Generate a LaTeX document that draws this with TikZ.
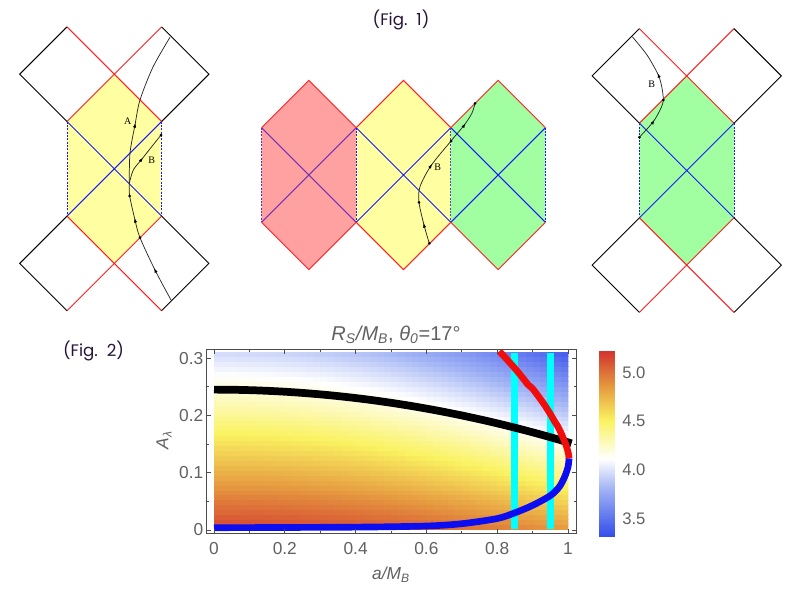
\documentclass[tikz,border=0pt]{standalone}
\usepackage{fontspec}
\newfontfamily\figfont{Poppins}
\newfontfamily\plotfont{Liberation Sans}
\newfontfamily\lblfont{Liberation Serif}
\usetikzlibrary{arrows.meta}
\definecolor{penred}{rgb}{1,0.12,0.12}
\definecolor{penblue}{rgb}{0.1,0.1,1}
\definecolor{penpurple}{rgb}{0.45,0.2,0.7}
\definecolor{hexyellow}{rgb}{1,1,0.63}
\definecolor{hexgreen}{rgb}{0.63,1,0.63}
\definecolor{hexpink}{rgb}{1,0.63,0.63}
\definecolor{figtxt}{rgb}{0.15,0.08,0.22}
\definecolor{plotgray}{rgb}{0.38,0.38,0.38}
\definecolor{framegray}{rgb}{0.3,0.3,0.3}
\definecolor{cmA}{rgb}{0.20,0.30,0.92}
\definecolor{cmB}{rgb}{0.64,0.71,0.96}
\definecolor{cmC}{rgb}{1,1,1}
\definecolor{cmD}{rgb}{0.98,0.95,0.38}
\definecolor{cmE}{rgb}{0.90,0.60,0.25}
\definecolor{cmF}{rgb}{0.82,0.20,0.18}
\definecolor{curveblue}{rgb}{0.05,0.05,0.95}
\definecolor{curvered}{rgb}{0.95,0.05,0.05}
\definecolor{curvecyan}{rgb}{0,1,1}
\newcommand\cmapcolor[1]{%
  \pgfmathsetmacro\cmvv{#1}%
  \ifdim\cmvv pt<3.8pt
    \pgfmathsetmacro\cmtt{max(0,min(100,(\cmvv-3.3)*200))}%
    \colorlet{cellc}{cmB!\cmtt!cmA}%
  \else\ifdim\cmvv pt<4.1pt
    \pgfmathsetmacro\cmtt{(\cmvv-3.8)/0.3*100}%
    \colorlet{cellc}{cmC!\cmtt!cmB}%
  \else\ifdim\cmvv pt<4.5pt
    \pgfmathsetmacro\cmtt{(\cmvv-4.1)/0.4*100}%
    \colorlet{cellc}{cmD!\cmtt!cmC}%
  \else\ifdim\cmvv pt<4.85pt
    \pgfmathsetmacro\cmtt{(\cmvv-4.5)/0.35*100}%
    \colorlet{cellc}{cmE!\cmtt!cmD}%
  \else
    \pgfmathsetmacro\cmtt{min(100,(\cmvv-4.85)/0.37*100)}%
    \colorlet{cellc}{cmF!\cmtt!cmE}%
  \fi\fi\fi\fi}
\begin{document}
\begin{tikzpicture}[x=0.75pt,y=-0.75pt,
  redl/.style={draw=penred, line width=0.7pt},
  blackl/.style={draw=black, line width=0.7pt},
  bluel/.style={draw=penblue, line width=0.7pt},
  purplel/.style={draw=penpurple, line width=0.7pt},
  bluedash/.style={draw=penblue, line width=0.7pt, dash pattern=on 1.5pt off 1pt},
  purpledash/.style={draw=penpurple!70!penblue, line width=0.7pt, dash pattern=on 1.5pt off 1pt},
  traj/.style={draw=black!85, line width=0.55pt},
  tipar/.style={-{Latex[length=3.4pt,width=2.4pt]}, draw=black, line width=0.5pt},
  lbl/.style={font=\lblfont\fontsize{7.5}{8}\selectfont, inner sep=0pt},
  figlbl/.style={font=\figfont\fontsize{12.5}{14}\selectfont, text=figtxt, inner sep=0pt},
  ticklbl/.style={font=\plotfont\fontsize{13}{15}\selectfont, text=plotgray, inner sep=0pt},
  cblbl/.style={font=\plotfont\fontsize{12.5}{15}\selectfont, text=plotgray, inner sep=0pt, anchor=west},
  tickl/.style={draw=framegray, line width=0.6pt}
]
\useasboundingbox (0,0) rectangle (800,600);

% ---------- Fig labels
\node[figlbl] (fig1) at (401,20) {(Fig.\ \ 1)};
\node[figlbl] (fig2) at (93.5,351) {(Fig.\ \ 2)};

% ---------- Left Penrose diagram
\begin{scope}[shift={(85.725pt,-126.6pt)}, x=35.475pt, y=-35.475pt]
  \fill[hexyellow] (0,-2)--(1,-1)--(1,1)--(0,2)--(-1,1)--(-1,-1)--cycle;
  \draw[bluel] (-1,-1)--(1,1) (1,-1)--(-1,1);
  \draw[bluedash] (-1,-1)--(-1,1) (1,-1)--(1,1);
  \draw[redl] (-1,-3)--(1,-1) (1,-3)--(-1,-1) (-1,3)--(1,1) (1,3)--(-1,1);
  \draw[blackl] (-1,-3)--(-2,-2)--(-1,-1) (1,-3)--(2,-2)--(1,-1)
                (-1,3)--(-2,2)--(-1,1) (1,3)--(2,2)--(1,1);
\end{scope}

% ---------- Middle Penrose diagram
\begin{scope}[shift={(302.625pt,-131.25pt)}, x=35.475pt, y=-35.475pt]
  \foreach \c/\f in {-2/hexpink,0/hexyellow,2/hexgreen}
    \fill[\f] (\c,-2)--(\c+1,-1)--(\c+1,1)--(\c,2)--(\c-1,1)--(\c-1,-1)--cycle;
  \draw[purplel] (-3,-1)--(-1,1) (-1,-1)--(-3,1);
  \draw[bluel] (-1,-1)--(1,1) (1,-1)--(-1,1) (1,-1)--(3,1) (3,-1)--(1,1);
  \draw[purpledash] (-3,-1)--(-3,1);
  \draw[bluedash] (-1,-1)--(-1,1) (3,-1)--(3,1);
  \draw[bluedash, draw=penblue!55!gray] (1,-1)--(1,1);
  \foreach \c in {-2,0,2}
    \draw[redl] (\c-1,-1)--(\c,-2)--(\c+1,-1) (\c-1,1)--(\c,2)--(\c+1,1);
\end{scope}

% ---------- Right Penrose diagram
\begin{scope}[shift={(515.025pt,-127.875pt)}, x=35.475pt, y=-35.475pt]
  \fill[hexgreen] (0,-2)--(1,-1)--(1,1)--(0,2)--(-1,1)--(-1,-1)--cycle;
  \draw[bluel] (-1,-1)--(1,1) (1,-1)--(-1,1);
  \draw[bluedash] (-1,-1)--(-1,1) (1,-1)--(1,1);
  \draw[redl] (-1,-3)--(1,-1) (1,-3)--(-1,-1) (-1,3)--(1,1) (1,3)--(-1,1);
  \draw[blackl] (-1,-3)--(-2,-2)--(-1,-1) (1,-3)--(2,-2)--(1,-1)
                (-1,3)--(-2,2)--(-1,1) (1,3)--(2,2)--(1,1);
\end{scope}

% ---------- trajectories: left
\draw[traj] plot[smooth] coordinates {(171,300)(155,270)(140,237.7)(135,220)(129.7,196)(129.3,183.3)(130,153)(135,125)(140,100)(153,67)(170,37.3)};
\draw[traj] plot[smooth] coordinates {(129.3,183.3)(133.3,170)(141.7,159.3)(161,135)};
\draw[tipar] (155.45,270.9)--(154.1,268.2);
\draw[tipar] (135.24,220.97)--(134.52,218.06);
\draw[tipar] (134.81,125.98)--(135.38,123.04);
\draw[tipar] (141.08,160.08)--(142.94,157.74);
\fill (129.7,196) circle (1.5) (140,237.7) circle (1.5) (161,135) circle (1.5);
\node[lbl] (lA) at (127.7,120.7) {A};
\node[lbl] (lB) at (151.7,160.7) {B};

% ---------- trajectories: middle
\draw[traj] plot[smooth] coordinates {(429.3,243.3)(424,225)(419,202.3)(420,186.7)(431,165.7)(451,141)(464.3,125)(472,113)(475,103.3)};
\draw[tipar] (424.24,225.97)--(423.52,223.06);
\draw[tipar] (430.44,166.53)--(432.12,164.04);
\draw[tipar] (463.76,125.84)--(465.38,123.32);
\fill (429.3,243.3) circle (1.5) (419,202.3) circle (1.5) (451,141) circle (1.5) (475,103.3) circle (1.5);
\node[lbl] (mB) at (437.7,167.3) {B};

% ---------- trajectories: right
\draw[traj] plot[smooth] coordinates {(639.3,137.3)(653.3,121.7)(661,108)(663.3,100)(662,88)(658.3,75)(647,55)(632.3,36.7)};
\draw[tipar] (652.76,122.54)--(654.38,120.02);
\draw[tipar] (658.64,75.94)--(657.62,73.12);
\fill (639.3,137.3) circle (1.5) (663.3,100) circle (1.5);
\node[lbl] (rB) at (651.7,84.3) {B};

% ---------- Fig 2 plot
\begin{scope}[shift={(160.5pt,-397.5pt)}, x=265.5pt, y=429.75pt]
  \begin{scope}
    \clip (0,0) rectangle (1.001,0.31);
    \foreach \i in {0,...,49}{
      \foreach \j in {0,...,35}{
        \pgfmathsetmacro\dna{(\i+0.5)/50}
        \pgfmathsetmacro\dnA{(\j+0.5)/36*0.31}
        \pgfmathsetmacro\dng{\dna*\dna}
        \pgfmathsetmacro\dnv{(5.15-3.9*\dnA)*(1-\dng)+(4.85-4.8*\dnA)*\dng}
        \cmapcolor{\dnv}
        \fill[cellc] ({\i/50},{\j/36*0.31}) rectangle ({(\i+1)/50+0.003},{(\j+1)/36*0.31+0.002});
      }
    }
  \end{scope}
  \draw[curvecyan, line width=5.25pt] (0.85,0.001) -- (0.85,0.309);
  \draw[curvecyan, line width=5.25pt] (0.951,0.001) -- (0.951,0.309);
  \draw[black, line width=5.8pt] plot[domain=0:1.01, samples=40, smooth] (\x,{0.245-0.092*\x*\x});
  \draw[curveblue, line width=5pt] plot[smooth] coordinates {(0,0.004)(0.4,0.005)(0.6,0.007)(0.7,0.011)(0.8,0.02)(0.85,0.03)(0.9,0.043)(0.95,0.06)(0.975,0.075)(0.99,0.092)(1.0,0.11)(1.003,0.125)};
  \draw[curvered, line width=5pt] plot[domain=0.1252:0.312, samples=30, smooth] ({1.003-2.43*pow(\x-0.125,1.5)},\x);
\end{scope}

% frame
\draw[framegray, line width=0.75pt] (206,349) rectangle (576,533.3);
\foreach \a/\t in {0/0,0.2/0.2,0.4/0.4,0.6/0.6,0.8/0.8,1/1}{
  \draw[tickl] ({214+354*\a},533.3) -- ++(0,-4.5);
  \draw[tickl] ({214+354*\a},349) -- ++(0,4.5);
  \node[ticklbl] at ({214+354*\a},548.5) {\t};
}
\foreach \a in {0.1,0.3,0.5,0.7,0.9}{
  \draw[tickl] ({214+354*\a},533.3) -- ++(0,-2.5);
  \draw[tickl] ({214+354*\a},349) -- ++(0,2.5);
}
\foreach \A/\t in {0/0,0.1/0.1,0.2/0.2,0.3/0.3}{
  \draw[tickl] (206,{530-573*\A}) -- ++(4.5,0);
  \draw[tickl] (576,{530-573*\A}) -- ++(-4.5,0);
  \node[ticklbl, anchor=east] at (203.5,{530-573*\A}) {\t};
}
\foreach \A in {0.05,0.15,0.25}{
  \draw[tickl] (206,{530-573*\A}) -- ++(2.5,0);
  \draw[tickl] (576,{530-573*\A}) -- ++(-2.5,0);
}

% title and axis labels
\node[font=\plotfont\fontsize{15}{17}\selectfont, text=plotgray, inner sep=0pt] (ttl) at (396,335)
  {\itshape R\textsubscript{S}/M\textsubscript{B}\upshape, \itshape θ\textsubscript{0}\upshape=17°};
\node[font=\plotfont\fontsize{13}{15}\selectfont, text=plotgray, inner sep=0pt] (xl) at (391,575)
  {\itshape a/M\textsubscript{B}};
\node[font=\plotfont\fontsize{13}{15}\selectfont, text=plotgray, inner sep=0pt, rotate=90] (yl) at (164,440)
  {\itshape A\textsubscript{λ}};

% colour bar
\foreach \k in {0,...,92}{
  \pgfmathsetmacro\cbv{3.30+(\k+0.5)/93*1.92}
  \cmapcolor{\cbv}
  \fill[cellc] (599.3,{537.3-2*\k}) rectangle (615,{537.3-2*(\k+1)-0.6});
}
\node[cblbl] (c50) at (622,372.7) {5.0};
\node[cblbl] (c45) at (622,420.7) {4.5};
\node[cblbl] (c40) at (622,469.3) {4.0};
\node[cblbl] (c35) at (622,518.3) {3.5};
\end{tikzpicture}
\end{document}
